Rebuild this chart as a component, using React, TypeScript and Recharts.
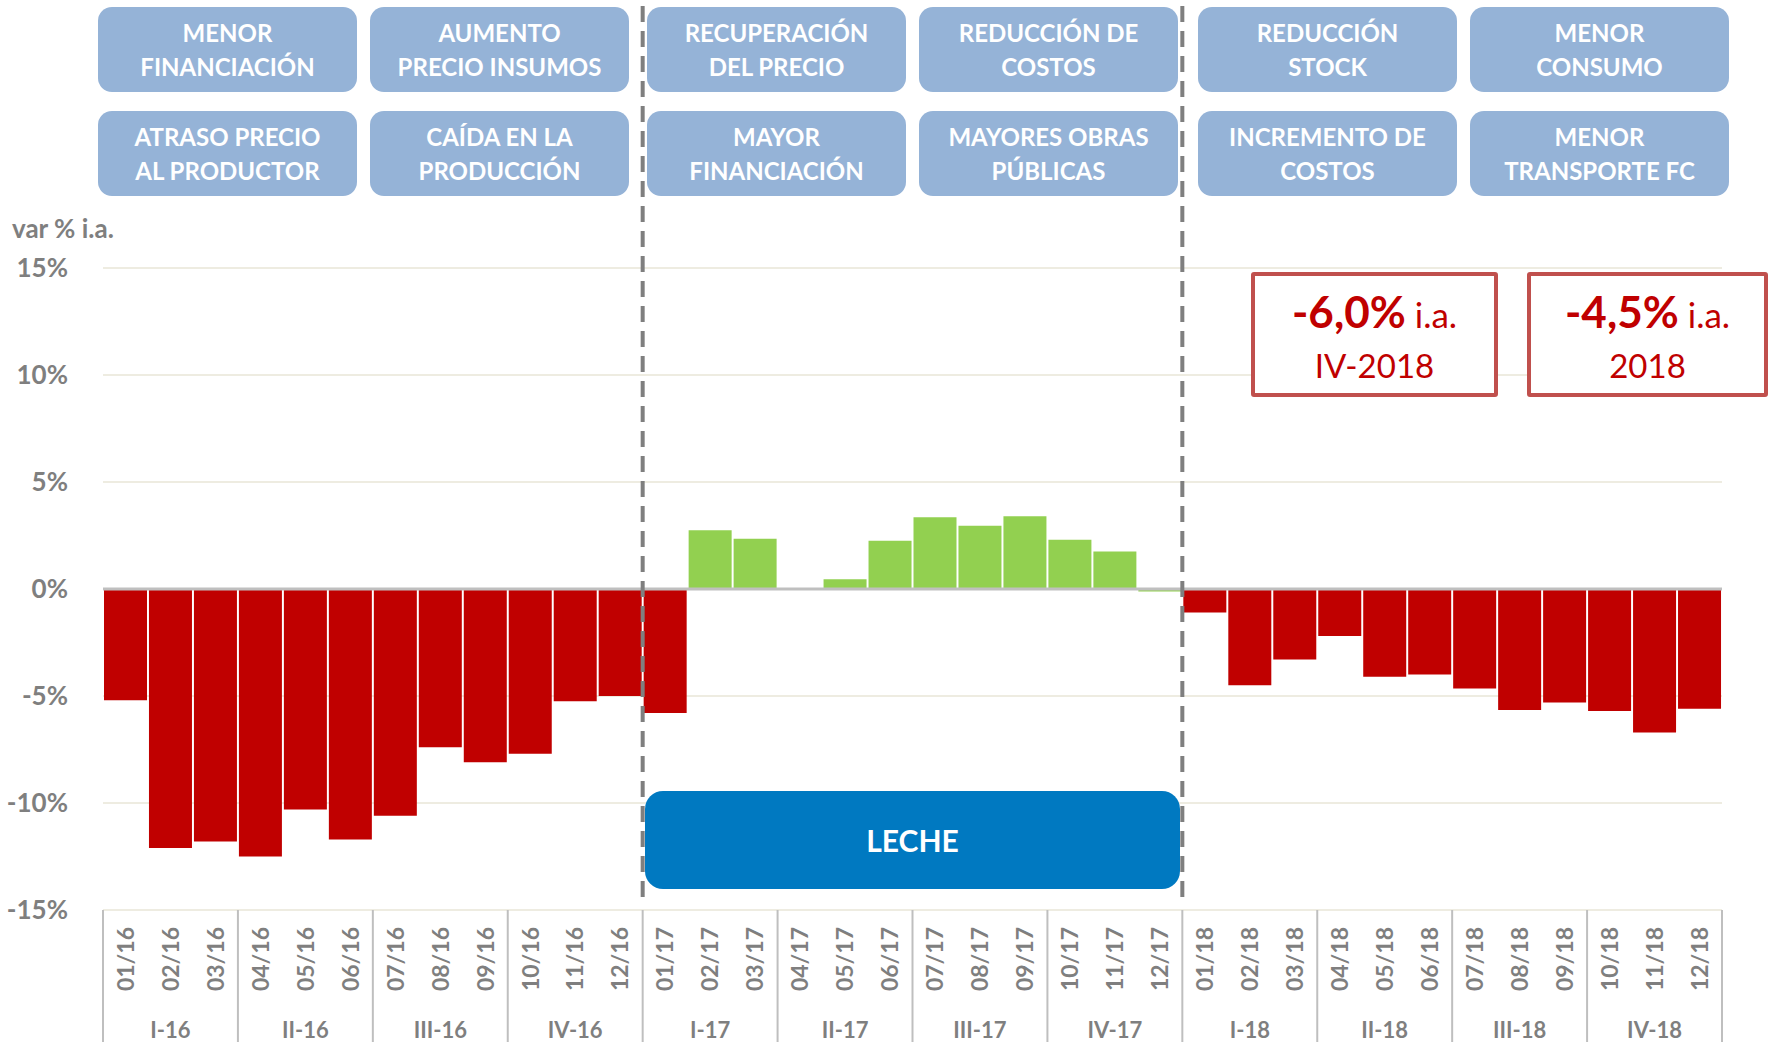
import React from "react";
import { BarChart, Bar, Cell, XAxis, YAxis, CartesianGrid, ReferenceLine } from "recharts";

const months = [
    "01/16", "02/16", "03/16", "04/16", "05/16", "06/16", "07/16", "08/16", "09/16", "10/16", "11/16", "12/16",
    "01/17", "02/17", "03/17", "04/17", "05/17", "06/17", "07/17", "08/17", "09/17", "10/17", "11/17", "12/17",
    "01/18", "02/18", "03/18", "04/18", "05/18", "06/18", "07/18", "08/18", "09/18", "10/18", "11/18", "12/18",
];

const variation = [
    -5.2, -12.1, -11.8, -12.5, -10.3, -11.7, -10.6, -7.4, -8.1, -7.7, -5.25, -5.0,
    -5.8, 2.75, 2.35, 0, 0.45, 2.25, 3.35, 2.95, 3.4, 2.3, 1.75, -0.12,
    -1.1, -4.5, -3.3, -2.2, -4.1, -4.0, -4.65, -5.65, -5.3, -5.7, -6.7, -5.6,
];

const quarters = ["I-16", "II-16", "III-16", "IV-16", "I-17", "II-17", "III-17", "IV-17", "I-18", "II-18", "III-18", "IV-18"];

const yTicks = [-15, -10, -5, 0, 5, 10, 15];

// top factor boxes, two rows of six
const factorsTop = [
    ["MENOR", "FINANCIACIÓN"],
    ["AUMENTO", "PRECIO INSUMOS"],
    ["RECUPERACIÓN", "DEL PRECIO"],
    ["REDUCCIÓN DE", "COSTOS"],
    ["REDUCCIÓN", "STOCK"],
    ["MENOR", "CONSUMO"],
];
const factorsBottom = [
    ["ATRASO PRECIO", "AL PRODUCTOR"],
    ["CAÍDA EN LA", "PRODUCCIÓN"],
    ["MAYOR", "FINANCIACIÓN"],
    ["MAYORES OBRAS", "PÚBLICAS"],
    ["INCREMENTO DE", "COSTOS"],
    ["MENOR", "TRANSPORTE FC"],
];

const highlights = [
    { big: "-6,0%", small: " i.a.", period: "IV-2018" },
    { big: "-4,5%", small: " i.a.", period: "2018" },
];

const sectorName = "LECHE";

const W = 1773;
const H = 1042;
const PLOT_LEFT = 103;
const PLOT_RIGHT = 1722;
const PLOT_TOP = 268;
const AXIS_H = 132;
const PLOT_BOTTOM = H - AXIS_H;
const BAND = (PLOT_RIGHT - PLOT_LEFT) / months.length;

const FONT = "Lato, 'Open Sans', sans-serif";
const GREY = "#7F7F7F";
const RED = "#C00000";
const GREEN = "#92D050";

const data = months.map((m, i) => ({ month: m, value: variation[i] }));

// 2017 recovery (02/17 - 12/17) is green
const barColor = (i: number) => (i >= 13 && i <= 23 ? GREEN : RED);

const MonthTick = (props: any) => {
    const { x, payload } = props;
    const i = payload.index;
    return (
        <g>
            <text
                x={x}
                y={PLOT_BOTTOM + 17}
                transform={`rotate(-90, ${x}, ${PLOT_BOTTOM + 17})`}
                textAnchor="end"
                dy="0.36em"
                fill={GREY}
                fontSize={23}
                fontWeight="bold"
                fontFamily={FONT}
            >
                {payload.value}
            </text>
            {i % 3 === 0 && (
                <line x1={x - BAND / 2} x2={x - BAND / 2} y1={PLOT_BOTTOM} y2={H} stroke="#BFBFBF" strokeWidth={2} />
            )}
            {i === months.length - 1 && (
                <line x1={x + BAND / 2} x2={x + BAND / 2} y1={PLOT_BOTTOM} y2={H} stroke="#BFBFBF" strokeWidth={2} />
            )}
            {i % 3 === 1 && (
                <text
                    x={x}
                    y={1029}
                    textAnchor="middle"
                    dominantBaseline="central"
                    fill={GREY}
                    fontSize={22}
                    fontWeight="bold"
                    fontFamily={FONT}
                >
                    {quarters[(i - 1) / 3]}
                </text>
            )}
        </g>
    );
};

const boxCols = [98, 370, 647, 919, 1198, 1470];

const FactorBox = ({ lines, left, top }: { lines: string[]; left: number; top: number }) => (
    <div
        style={{
            position: "absolute",
            left,
            top,
            width: 259,
            height: 85,
            background: "#95B3D7",
            borderRadius: 14,
            color: "#fff",
            fontFamily: FONT,
            fontWeight: 700,
            fontSize: 24,
            lineHeight: "34px",
            display: "flex",
            flexDirection: "column",
            alignItems: "center",
            justifyContent: "center",
            textAlign: "center",
        }}
    >
        {lines.map((l, k) => (
            <div key={k}>{l}</div>
        ))}
    </div>
);

const App = () => {
    const divX = [PLOT_LEFT + 12 * BAND, PLOT_LEFT + 24 * BAND];
    return (
        <div style={{ position: "absolute", left: 0, top: 0, width: W, height: H, background: "#fff", overflow: "hidden" }}>
            <BarChart
                width={W}
                height={H}
                data={data}
                margin={{ top: PLOT_TOP, right: W - PLOT_RIGHT, left: 0, bottom: 0 }}
                barCategoryGap={1}
            >
                <CartesianGrid vertical={false} stroke="#EEECE1" strokeWidth={2} />
                <XAxis
                    dataKey="month"
                    height={AXIS_H}
                    interval={0}
                    tickLine={false}
                    axisLine={false}
                    tick={<MonthTick />}
                />
                <YAxis
                    width={PLOT_LEFT}
                    domain={[-15, 15]}
                    ticks={yTicks}
                    tickFormatter={(v) => `${v}%`}
                    tickLine={false}
                    axisLine={false}
                    tickMargin={29}
                    tick={{ fill: GREY, fontSize: 26, fontWeight: "bold", fontFamily: FONT }}
                />
                <Bar dataKey="value" isAnimationActive={false}>
                    {data.map((d, i) => (
                        <Cell key={d.month} fill={barColor(i)} />
                    ))}
                </Bar>
                <ReferenceLine y={0} stroke="#BFBFBF" strokeWidth={3} />
            </BarChart>

            <svg width={W} height={H} style={{ position: "absolute", left: 0, top: 0, pointerEvents: "none" }}>
                {divX.map((x) => (
                    <line key={x} x1={x} x2={x} y1={6} y2={906} stroke={GREY} strokeWidth={4} strokeDasharray="16 9" />
                ))}
            </svg>

            {factorsTop.map((lines, i) => (
                <FactorBox key={"t" + i} lines={lines} left={boxCols[i]} top={7} />
            ))}
            {factorsBottom.map((lines, i) => (
                <FactorBox key={"b" + i} lines={lines} left={boxCols[i]} top={111} />
            ))}

            <div
                style={{
                    position: "absolute",
                    left: 12,
                    top: 212,
                    color: GREY,
                    fontFamily: FONT,
                    fontWeight: 700,
                    fontSize: 26,
                }}
            >
                var % i.a.
            </div>

            <div
                style={{
                    position: "absolute",
                    left: divX[0] + 2,
                    top: 791,
                    width: divX[1] - divX[0] - 4,
                    height: 98,
                    background: "#0079C1",
                    borderRadius: 18,
                    color: "#fff",
                    fontFamily: FONT,
                    fontWeight: 700,
                    fontSize: 30,
                    display: "flex",
                    alignItems: "center",
                    justifyContent: "center",
                }}
            >
                {sectorName}
            </div>

            {highlights.map((h, i) => (
                <div
                    key={h.period}
                    style={{
                        position: "absolute",
                        left: i === 0 ? 1251 : 1527,
                        top: 272,
                        width: i === 0 ? 247 : 241,
                        height: 125,
                        boxSizing: "border-box",
                        border: "4px solid #C0504D",
                        borderRadius: 3,
                        background: "#fff",
                        color: RED,
                        fontFamily: FONT,
                        textAlign: "center",
                    }}
                >
                    <div style={{ position: "absolute", left: 0, right: 0, top: 7, lineHeight: "56px", whiteSpace: "nowrap" }}>
                        <span style={{ fontSize: 44, fontWeight: 700 }}>{h.big}</span>
                        <span style={{ fontSize: 35 }}>{h.small}</span>
                    </div>
                    <div style={{ position: "absolute", left: 0, right: 0, top: 65, lineHeight: "48px", fontSize: 33 }}>
                        {h.period}
                    </div>
                </div>
            ))}
        </div>
    );
};

export default App;
